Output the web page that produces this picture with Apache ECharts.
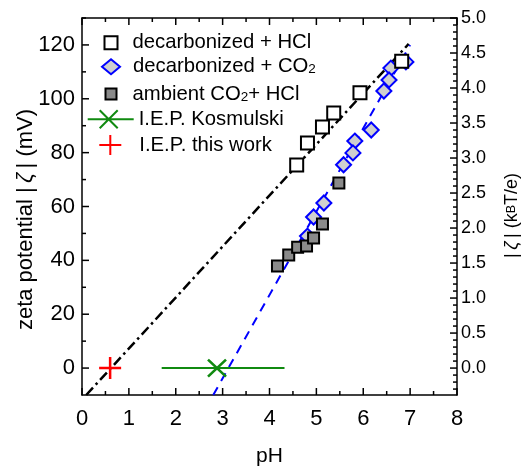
<!DOCTYPE html>
<html>
<head>
<meta charset="utf-8">
<script src="https://cdn.jsdelivr.net/npm/echarts@6/dist/echarts.min.js"></script>
<style>
  html, body { margin: 0; padding: 0; background: #fff; }
  #chart { width: 529px; height: 472px; }
</style>
</head>
<body>
<div id="chart"></div>
<script>
// decarbonized + HCl
const hclPH   = [4.58, 4.81, 5.13, 5.37, 5.93, 6.82];
const hclZeta = [75.4, 83.6, 89.5, 94.7, 102.2, 113.9];

// decarbonized + CO2
const co2PH   = [6.91, 6.59, 6.55, 6.44, 6.17, 5.82, 5.78, 5.58, 5.16, 4.94, 4.81];
const co2Zeta = [113.7, 111.4, 107.0, 102.9, 88.4, 84.3, 79.9, 75.5, 61.3, 56.1, 49.0];

// ambient CO2 + HCl
const ambPH   = [4.17, 4.41, 4.60, 4.79, 4.94, 5.13, 5.48];
const ambZeta = [37.9, 42.0, 44.9, 45.3, 48.3, 53.5, 68.7];

// linear guide lines (end points)
const hclFitPH   = [0.09, 6.97];
const hclFitZeta = [-10, 120.4];
const co2FitPH   = [2.80, 7.00];
const co2FitZeta = [-10, 120];

// isoelectric points
const iepKosPH    = [2.88];
const iepKosZeta  = [0];
const iepKosRange = [1.70, 4.32];
const iepOwnPH    = [0.60];
const iepOwnZeta  = [0];

// axes
const phRange   = [0, 8];
const phTicks   = [0, 1, 2, 3, 4, 5, 6, 7, 8];
const phMinor   = [0.5, 1.5, 2.5, 3.5, 4.5, 5.5, 6.5, 7.5];
const zetaRange = [-10, 130];
const mVPerKT   = 26;               // 1 kT/e in mV
const zetaTicks = [0, 20, 40, 60, 80, 100, 120];
const zetaMinor = [10, 30, 50, 70, 90, 110, 130];
const ktTicks   = [0, 0.5, 1.0, 1.5, 2.0, 2.5, 3.0, 3.5, 4.0, 4.5, 5.0];

const ktMinor = [];
for (let k = -3; k <= 50; k++) {
  if (k % 5 !== 0) ktMinor.push(k / 10);
}

const FONT = '"Liberation Sans", Arial, Helvetica, sans-serif';
const zip = (xs, ys) => xs.map((x, i) => [x, ys[i]]);

const MAJOR_LEN = 7;
const MINOR_LEN = 4;
const withLen = (vals, len) => vals.map(v => [v, len]);

const legendLabels = {
  'decarbonized + HCl': 'decarbonized + HCl',
  'decarbonized + CO2': 'decarbonized + CO{sub|2}',
  'ambient CO2 + HCl': 'ambient CO{sub|2}+ HCl',
  'I.E.P. Kosmulski': 'I.E.P. Kosmulski',
  'I.E.P. this work': 'I.E.P. this work'
};

function legendItem(name, left, top, w, h, gap, icon) {
  const item = { name: name };
  if (icon) item.icon = icon;
  return {
    data: [item],
    orient: 'vertical',
    left: left,
    top: top,
    padding: 0,
    itemWidth: w,
    itemHeight: h,
    selectedMode: false,
    formatter: n => (gap > 0 ? '{g| }' : '') + legendLabels[n],
    textStyle: {
      fontFamily: FONT,
      fontSize: 20.3,
      color: '#000',
      lineHeight: 20,
      rich: {
        sub: { fontFamily: FONT, fontSize: 13.5, lineHeight: 10, verticalAlign: 'bottom', color: '#000' },
        g: { width: gap, fontSize: 10 }
      }
    }
  };
}

const frameLine = () => ({ show: true, onZero: false, lineStyle: { color: '#000', width: 1.5 } });
const noTicks = { show: false };
const tickStyle = { stroke: '#000', lineWidth: 1.5 };

// inward tick marks on the bottom and top frame edges
function renderPhTick(params, api) {
  const v = api.value(0);
  const len = api.value(1);
  const b = api.coord([v, zetaRange[0]]);
  const t = api.coord([v, zetaRange[1]]);
  return {
    type: 'group',
    children: [
      { type: 'line', shape: { x1: b[0], y1: b[1], x2: b[0], y2: b[1] - len }, style: tickStyle },
      { type: 'line', shape: { x1: t[0], y1: t[1], x2: t[0], y2: t[1] + len }, style: tickStyle }
    ]
  };
}

// inward tick marks on the left edge (mV scale)
function renderZetaTick(params, api) {
  const p = api.coord([phRange[0], api.value(0)]);
  const len = api.value(1);
  return { type: 'line', shape: { x1: p[0], y1: p[1], x2: p[0] + len, y2: p[1] }, style: tickStyle };
}

// inward tick marks on the right edge (kT/e scale)
function renderKtTick(params, api) {
  const p = api.coord([phRange[1], api.value(0) * mVPerKT]);
  const len = api.value(1);
  return { type: 'line', shape: { x1: p[0], y1: p[1], x2: p[0] - len, y2: p[1] }, style: tickStyle };
}

const chart = echarts.init(document.getElementById('chart'), null, { renderer: 'canvas' });

chart.setOption({
  animation: false,
  backgroundColor: '#fff',
  grid: { left: 82, right: 72, top: 18, bottom: 77, containLabel: false },
  legend: [
    legendItem('decarbonized + HCl', 103.5, 32.7, 13, 13, 10),
    legendItem('decarbonized + CO2', 101, 56.7, 18, 15, 8),
    legendItem('ambient CO2 + HCl', 104.5, 84, 11, 11, 11),
    legendItem('I.E.P. Kosmulski', 86.7, 109.3, 46, 18, 0,
      'path://M0,9L46,9M12,0L30,18M30,0L12,18'),
    legendItem('I.E.P. this work', 98.3, 134, 22, 20, 13,
      'path://M0,10L22,10M11,0L11,20')
  ],
  xAxis: [
    {
      type: 'value',
      position: 'bottom',
      min: phRange[0],
      max: phRange[1],
      interval: 1,
      nameMoveOverlap: false,
      name: 'pH',
      nameLocation: 'middle',
      nameGap: 54,
      nameTextStyle: { fontFamily: FONT, fontSize: 21, lineHeight: 14, color: '#000' },
      axisLine: frameLine(),
      axisTick: noTicks,
      minorTick: noTicks,
      axisLabel: { show: true, fontFamily: FONT, fontSize: 22, color: '#000', margin: 13 },
      splitLine: { show: false },
      minorSplitLine: { show: false }
    },
    {
      type: 'value',
      position: 'top',
      min: phRange[0],
      max: phRange[1],
      interval: 1,
      axisLine: frameLine(),
      axisTick: noTicks,
      minorTick: noTicks,
      axisLabel: { show: false },
      splitLine: { show: false },
      minorSplitLine: { show: false }
    }
  ],
  yAxis: [
    {
      type: 'value',
      position: 'left',
      min: zetaRange[0],
      max: zetaRange[1],
      nameMoveOverlap: false,
      name: 'zeta potential |\u2009{i|ζ}\u2009| (mV)',
      nameLocation: 'middle',
      nameGap: 45,
      nameTextStyle: {
        fontFamily: FONT, fontSize: 22, color: '#000',
        padding: [0, 26, 0, 0],
        rich: { i: { fontFamily: FONT, fontSize: 22, fontStyle: 'italic', color: '#000' } }
      },
      axisLine: frameLine(),
      axisTick: noTicks,
      axisLabel: { show: true, fontFamily: FONT, fontSize: 22, color: '#000', margin: 7, customValues: zetaTicks },
      splitLine: { show: false }
    },
    {
      type: 'value',
      position: 'right',
      min: zetaRange[0] / mVPerKT,
      max: zetaRange[1] / mVPerKT,
      nameMoveOverlap: false,
      name: '|\u2009{i|ζ}\u2009| (k{sub|B}T/e)',
      nameLocation: 'middle',
      nameGap: 49,
      nameTextStyle: {
        fontFamily: FONT, fontSize: 18, lineHeight: 12, color: '#000',
        padding: [0, 18, 0, 0],
        rich: {
          i: { fontFamily: FONT, fontSize: 18, lineHeight: 12, fontStyle: 'italic', color: '#000' },
          sub: { fontFamily: FONT, fontSize: 12.5, lineHeight: 8, verticalAlign: 'bottom', color: '#000' }
        }
      },
      axisLine: frameLine(),
      axisTick: noTicks,
      axisLabel: {
        show: true, fontFamily: FONT, fontSize: 18, color: '#000', margin: 4,
        customValues: ktTicks,
        formatter: v => Number(v).toFixed(1)
      },
      splitLine: { show: false }
    }
  ],
  series: [
    {
      name: 'fit decarbonized + HCl',
      type: 'line',
      data: zip(hclFitPH, hclFitZeta),
      symbol: 'none',
      silent: true,
      z: 1,
      lineStyle: { color: '#000', width: 2.5, type: [10, 4, 2.5, 4] }
    },
    {
      name: 'fit decarbonized + CO2',
      type: 'line',
      data: zip(co2FitPH, co2FitZeta),
      symbol: 'none',
      silent: true,
      z: 1,
      lineStyle: { color: '#0000ff', width: 2, type: [9, 7] }
    },
    {
      name: 'I.E.P. Kosmulski range',
      type: 'line',
      data: zip(iepKosRange, [iepKosZeta[0], iepKosZeta[0]]),
      symbol: 'none',
      silent: true,
      z: 2,
      lineStyle: { color: '#108a10', width: 2 }
    },
    {
      name: 'decarbonized + CO2',
      type: 'scatter',
      data: zip(co2PH, co2Zeta),
      symbol: 'diamond',
      symbolSize: 15,
      z: 3,
      itemStyle: { color: '#cfcfcf', borderColor: '#0000ff', borderWidth: 2, opacity: 1 }
    },
    {
      name: 'ambient CO2 + HCl',
      type: 'scatter',
      data: zip(ambPH, ambZeta),
      symbol: 'rect',
      symbolSize: 11,
      z: 4,
      itemStyle: { color: '#8a8a8a', borderColor: '#000', borderWidth: 2, opacity: 1 }
    },
    {
      name: 'decarbonized + HCl',
      type: 'scatter',
      data: zip(hclPH, hclZeta),
      symbol: 'rect',
      symbolSize: 13,
      z: 5,
      itemStyle: { color: '#fff', borderColor: '#000', borderWidth: 2, opacity: 1 }
    },
    {
      name: 'I.E.P. Kosmulski',
      type: 'scatter',
      data: zip(iepKosPH, iepKosZeta),
      symbol: 'path://M0,0L18,17M18,0L0,17',
      symbolSize: [18, 17],
      z: 6,
      itemStyle: { color: 'transparent', borderColor: '#108a10', borderWidth: 2.5, opacity: 1 }
    },
    {
      name: 'I.E.P. this work',
      type: 'scatter',
      data: zip(iepOwnPH, iepOwnZeta),
      symbol: 'path://M0,11L22,11M11,0L11,22',
      symbolSize: [22, 22],
      z: 6,
      itemStyle: { color: 'transparent', borderColor: '#ff0000', borderWidth: 2.5, opacity: 1 }
    },
    {
      name: 'pH ticks',
      type: 'custom',
      silent: true,
      clip: false,
      z: 10,
      data: withLen(phTicks, MAJOR_LEN).concat(withLen(phMinor, MINOR_LEN)),
      renderItem: renderPhTick
    },
    {
      name: 'mV ticks',
      type: 'custom',
      silent: true,
      clip: false,
      z: 10,
      data: withLen(zetaTicks, MAJOR_LEN).concat(withLen(zetaMinor, MINOR_LEN)),
      renderItem: renderZetaTick
    },
    {
      name: 'kT/e ticks',
      type: 'custom',
      silent: true,
      clip: false,
      z: 10,
      data: withLen(ktTicks, MAJOR_LEN).concat(withLen(ktMinor, MINOR_LEN)),
      renderItem: renderKtTick
    }
  ]
});
</script>
</body>
</html>
